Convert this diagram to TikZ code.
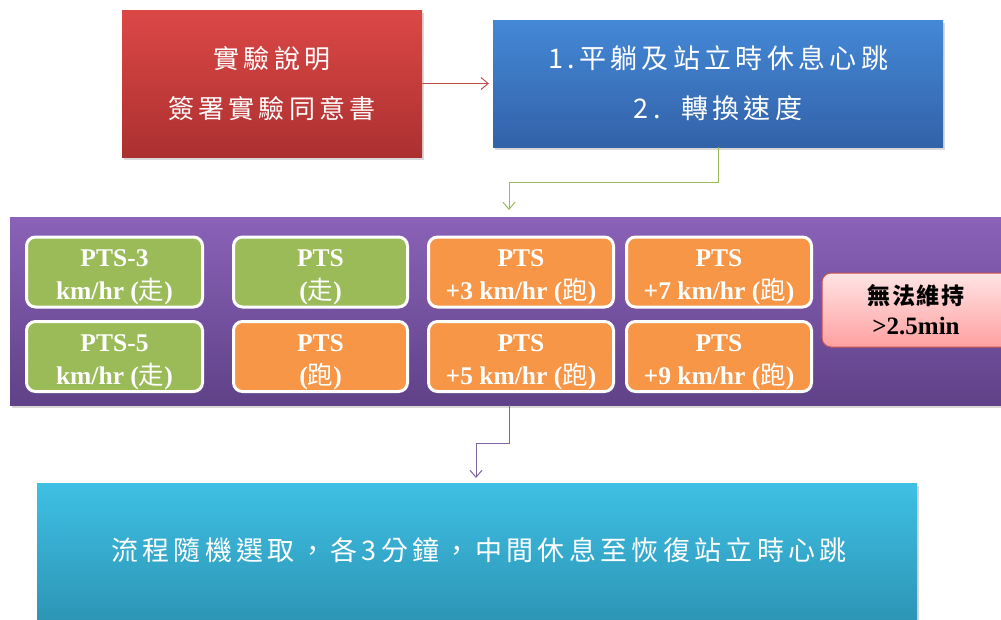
\documentclass[tikz,border=0pt]{standalone}
\usepackage{fontspec}
\setmainfont{Liberation Serif}
\newfontfamily\cjk{Noto Sans CJK TC}
\newfontfamily\cjksp[LetterSpace=16]{Noto Sans CJK TC}
\newfontfamily\cjkmid[LetterSpace=8]{Noto Sans CJK TC}
\usetikzlibrary{arrows.meta,shadows}
\definecolor{redtop}{RGB}{219,72,70}
\definecolor{redbot}{RGB}{172,48,48}
\definecolor{bluetop}{RGB}{68,136,214}
\definecolor{bluebot}{RGB}{50,98,168}
\definecolor{purtop}{RGB}{138,98,184}
\definecolor{purbot}{RGB}{96,66,136}
\definecolor{cyantop}{RGB}{62,192,228}
\definecolor{cyanbot}{RGB}{44,146,178}
\definecolor{grn}{RGB}{155,187,89}
\definecolor{org}{RGB}{247,150,70}
\definecolor{pinktop}{RGB}{255,228,228}
\definecolor{pinkbot}{RGB}{255,160,160}
\definecolor{pinkedge}{RGB}{196,82,80}
\definecolor{redline}{RGB}{192,80,77}
\definecolor{grnline}{RGB}{155,187,89}
\definecolor{purline}{RGB}{128,100,162}
\newcommand{\zh}[1]{{\cjk\mdseries #1}}
\newcommand{\twolines}[2]{\raisebox{-11pt}[0pt][0pt]{\begin{tabular}{@{}c@{}}#1\\#2\end{tabular}}}
\begin{document}
\begin{tikzpicture}[x=1pt,y=-1pt,
  bigbox/.style={rectangle, inner sep=0pt, text=white, align=center,
    drop shadow={shadow xshift=2pt, shadow yshift=-3pt, opacity=0.3}},
  pill/.style={rectangle, draw=white, line width=3pt, rounded corners=9pt,
    minimum height=70pt, inner sep=0pt, text=white,
    font=\bfseries\fontsize{25.5}{33}\selectfont},
  conn/.style={line width=1pt, -{Straight Barb[length=7pt,width=12pt]}}]
\clip (0,0) rectangle (1001,619);
\fill[white] (0,0) rectangle (1001,619);
% top boxes
\node[bigbox, top color=redtop, bottom color=redbot, minimum width=300pt, minimum height=147pt,
  font=\cjksp\fontsize{26}{50}\selectfont] (red) at (272,83.5) {實驗說明\\簽署實驗同意書};
\node[bigbox, top color=bluetop, bottom color=bluebot, minimum width=450pt, minimum height=127pt,
  font=\cjksp\fontsize{27}{50}\selectfont] (blue) at (718,83.5) {1.平躺及站立時休息心跳\\2.\ \ 轉換速度};
% band
\node[bigbox, top color=purtop, bottom color=purbot, minimum width=1000pt, minimum height=188pt] (band) at (510,311) {};
% small boxes
\node[pill, fill=grn, minimum width=176pt] (b11) at (114.5,272) {\twolines{PTS-3}{km/hr (\zh{走})}};
\node[pill, fill=grn, minimum width=176pt] (b21) at (114.5,356.5) {\twolines{PTS-5}{km/hr (\zh{走})}};
\node[pill, fill=grn, minimum width=174pt] (b12) at (320.5,272) {\twolines{PTS}{(\zh{走})}};
\node[pill, fill=org, minimum width=174pt] (b22) at (320.5,356.5) {\twolines{PTS}{(\zh{跑})}};
\node[pill, fill=org, minimum width=185pt] (b13) at (521,272) {\twolines{PTS}{+3 km/hr (\zh{跑})}};
\node[pill, fill=org, minimum width=185pt] (b23) at (521,356.5) {\twolines{PTS}{+5 km/hr (\zh{跑})}};
\node[pill, fill=org, minimum width=185pt] (b14) at (719,272) {\twolines{PTS}{+7 km/hr (\zh{跑})}};
\node[pill, fill=org, minimum width=185pt] (b24) at (719,356.5) {\twolines{PTS}{+9 km/hr (\zh{跑})}};
\node[rectangle, draw=pinkedge, line width=1pt, rounded corners=9pt, top color=pinktop, bottom color=pinkbot,
  minimum width=188pt, minimum height=74pt, inner sep=0pt, align=center, text=black,
  font=\bfseries\fontsize{25}{30}\selectfont] (pink) at (916,310) {{\cjkmid\bfseries\fontsize{23}{30}\selectfont 無法維持}\\>2.5min};
% bottom box
\node[bigbox, top color=cyantop, bottom color=cyanbot, minimum width=880pt, minimum height=147pt] (cyan) at (477,556.5) {};
\node[text=white, font=\cjksp\fontsize{27}{30}\selectfont] (cyantext) at (479,550) {流程隨機選取，各3分鐘，中間休息至恢復站立時心跳};
% connectors
\coordinate (gt) at (509,210);
\coordinate (pt) at (476,478);
\draw[conn, redline, shorten >=4pt] (red) -- (blue);
\draw[conn, grnline] (blue.south) -- ++(0,35) -| (gt);
\draw[conn, purline] (band.south -| gt) -- ++(0,38) -| (pt);
\end{tikzpicture}
\end{document}
